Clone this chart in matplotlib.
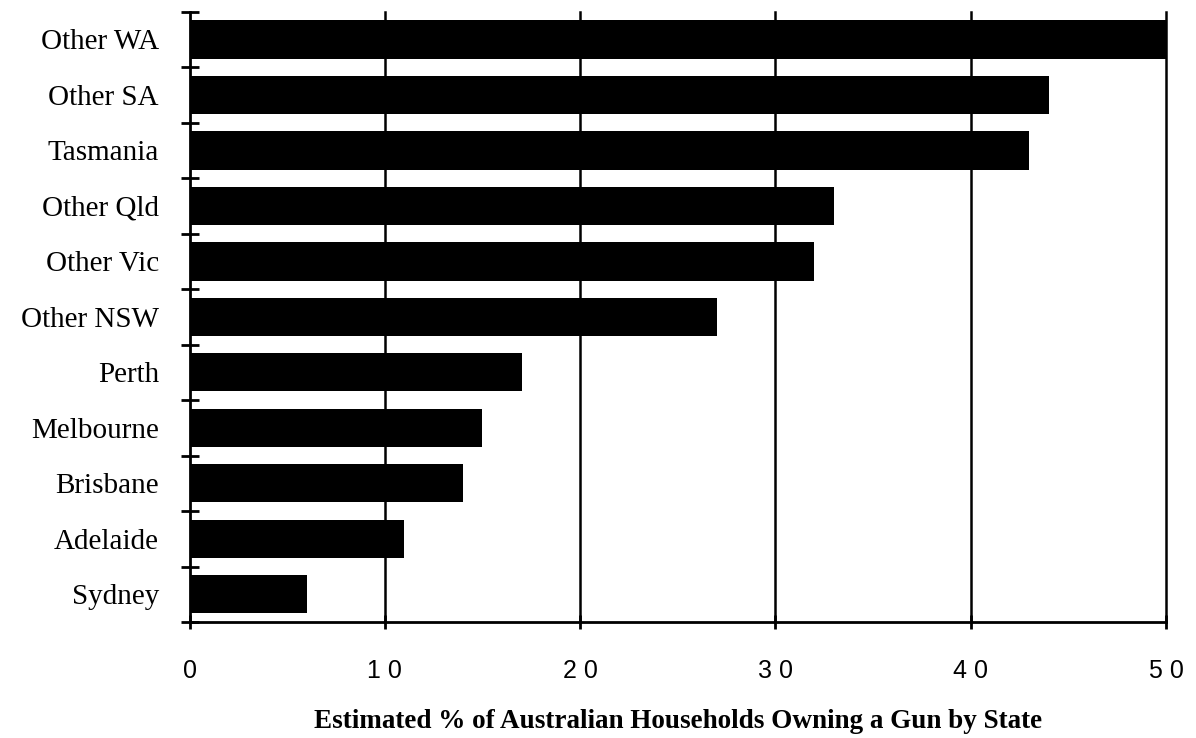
import matplotlib
matplotlib.use("Agg")
import matplotlib.pyplot as plt
import numpy as np

regions = ["Sydney", "Adelaide", "Brisbane", "Melbourne", "Perth",
           "Other NSW", "Other Vic", "Other Qld", "Tasmania", "Other SA", "Other WA"]
pct_owning = [6, 11, 14, 15, 17, 27, 32, 33, 43, 44, 50]
x_ticks = [0, 10, 20, 30, 40, 50]
x_tick_labels = ["0", "1 0", "2 0", "3 0", "4 0", "5 0"]
x_title = "Estimated % of Australian Households Owning a Gun by State"

serif = ["Liberation Serif", "DejaVu Serif"]
sans = ["Liberation Sans", "DejaVu Sans"]

W, H = 1196, 738
fig = plt.figure(figsize=(W / 100, H / 100), dpi=100)
left, right, top, bottom = 189.5 / W, 1166 / W, 1 - 11.7 / H, 1 - 622 / H
ax = fig.add_axes([left, bottom, right - left, top - bottom])

y = np.arange(len(regions))
ax.barh(y, pct_owning, height=0.69, color="black", zorder=3)

ax.set_xlim(0, 50)
ax.set_ylim(-0.5, len(regions) - 0.5)

# vertical grid lines
for xv in x_ticks[1:]:
    ax.axvline(xv, color="black", lw=1.8, zorder=2, clip_on=False)

for s in ["top", "right"]:
    ax.spines[s].set_visible(False)
for s in ["left", "bottom"]:
    ax.spines[s].set_linewidth(2)

ax.set_xticks(x_ticks)
ax.set_xticklabels(x_tick_labels, fontfamily=sans, fontsize=18)
ax.tick_params(axis="x", direction="inout", length=10, width=2, pad=22)

# category labels centred between boundary ticks
ax.set_yticks(np.arange(-0.5, len(regions), 1.0))
ax.set_yticklabels([])
ax.tick_params(axis="y", direction="inout", length=13, width=2)
ax.set_yticks(y, minor=True)
ax.set_yticklabels(regions, minor=True, fontfamily=serif, fontsize=21)
ax.tick_params(axis="y", which="minor", length=0, pad=22)

ax.set_xlabel(x_title, fontfamily=serif, fontsize=19.5, fontweight="bold", labelpad=18)

fig.savefig("out.png", dpi=100)
